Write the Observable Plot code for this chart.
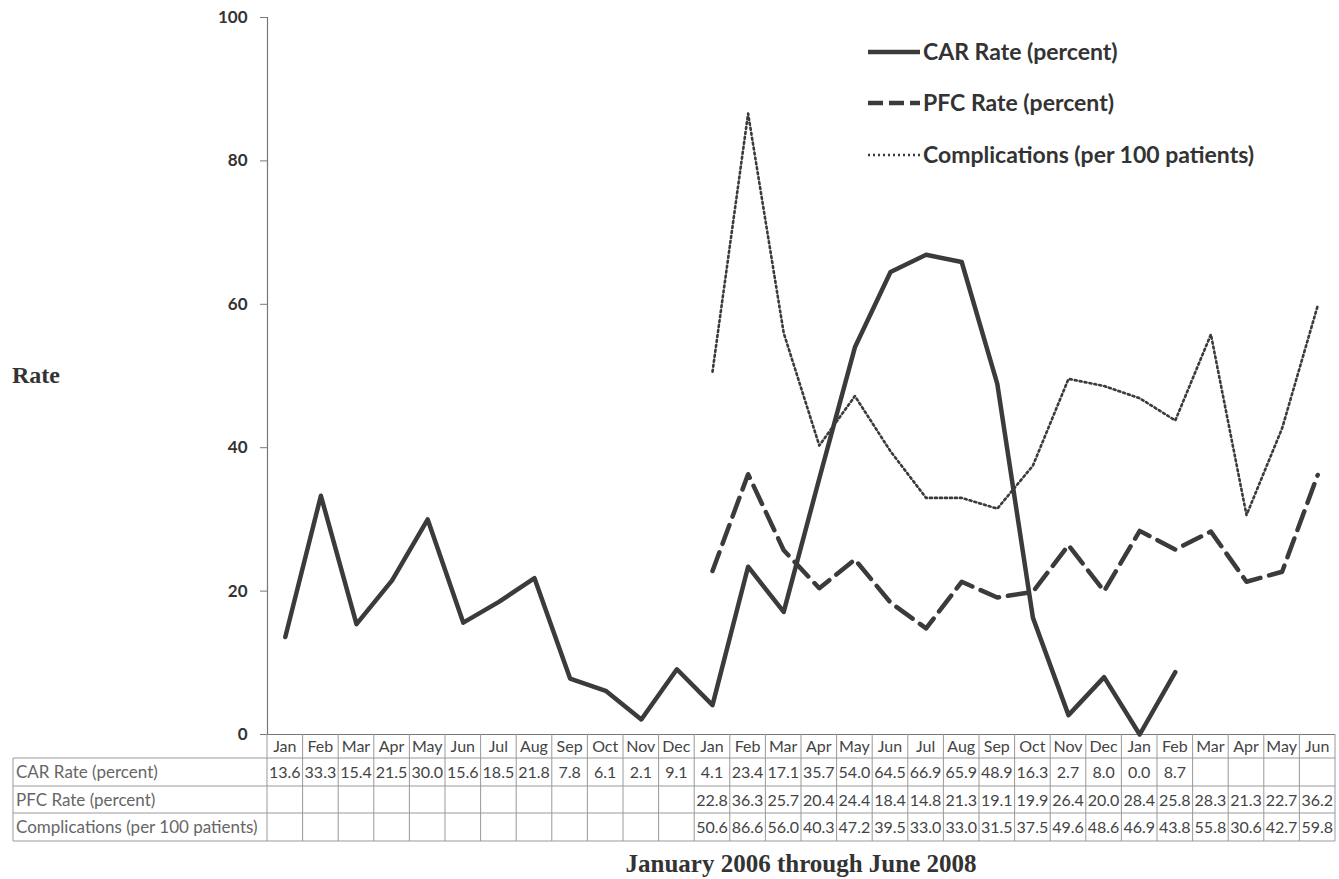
<!DOCTYPE html>
<html><head><meta charset="utf-8">
<script src="https://cdn.jsdelivr.net/npm/d3@7"></script>
<script src="https://cdn.jsdelivr.net/npm/@observablehq/plot@0.6"></script>
<style>body{margin:0;background:#fff}</style>
</head><body><div id="chart"></div>
<script>
const months = ["Jan","Feb","Mar","Apr","May","Jun","Jul","Aug","Sep","Oct","Nov","Dec",
                "Jan","Feb","Mar","Apr","May","Jun","Jul","Aug","Sep","Oct","Nov","Dec",
                "Jan","Feb","Mar","Apr","May","Jun"];
const carValues = [13.6,33.3,15.4,21.5,30.0,15.6,18.5,21.8,7.8,6.1,2.1,9.1,
                   4.1,23.4,17.1,35.7,54.0,64.5,66.9,65.9,48.9,16.3,2.7,8.0,0.0,8.7];
const pfcValues = [22.8,36.3,25.7,20.4,24.4,18.4,14.8,21.3,19.1,19.9,26.4,20.0,28.4,25.8,28.3,21.3,22.7,36.2];
const compValues = [50.6,86.6,56.0,40.3,47.2,39.5,33.0,33.0,31.5,37.5,49.6,48.6,46.9,43.8,55.8,30.6,42.7,59.8];
const carStart = 0, pfcStart = 12, compStart = 12;
const seriesNames = ["CAR Rate (percent)", "PFC Rate (percent)", "Complications (per 100 patients)"];
const yTicks = [0, 20, 40, 60, 80, 100];
const xTitle = "January 2006 through June 2008";
const yTitle = "Rate";

const car = carValues.map((v, k) => ({i: k + carStart, v}));
const pfc = pfcValues.map((v, k) => ({i: k + pfcStart, v}));
const comp = compValues.map((v, k) => ({i: k + compStart, v}));

const lineColor = "#3b3b3b";
const W = 1339, H = 879;
const plot = Plot.plot({
  width: W, height: H,
  marginLeft: 267, marginRight: 4, marginTop: 17, marginBottom: 145,
  x: {type: "linear", domain: [-0.5, months.length - 0.5], axis: null},
  y: {domain: [0, 100], axis: null},
  style: {fontFamily: "Lato, sans-serif", background: "#fff"},
  marks: [
    Plot.ruleX([-0.5], {stroke: "#777", strokeWidth: 1.2}),
    Plot.ruleY([0], {stroke: "#777", strokeWidth: 1.2}),
    Plot.axisY({ticks: yTicks, tickSize: 7, tickPadding: 13, fontSize: 17, fontWeight: "bold",
                label: null, stroke: "#777", fill: "#333"}),
    Plot.line(car, {x: "i", y: "v", stroke: lineColor, strokeWidth: 4.5, strokeLinejoin: "round"}),
    Plot.line(pfc, {x: "i", y: "v", stroke: lineColor, strokeWidth: 4.5, strokeDasharray: "20,9"}),
    Plot.line(comp, {x: "i", y: "v", stroke: lineColor, strokeWidth: 2.6, strokeDasharray: "2,3"})
  ]
});
document.getElementById("chart").appendChild(plot);

const svg = d3.select(plot);
const x = v => plot.scale("x").apply(v);

// Data table under the plot
const tbl = svg.append("g");
const rowLines = [758, 786, 813, 841];
const tableLeft = 13, tableRight = x(months.length - 0.5), tableTop = 734;
rowLines.forEach(y => tbl.append("line").attr("x1", tableLeft).attr("x2", tableRight)
  .attr("y1", y).attr("y2", y).attr("stroke", "#999"));
tbl.append("line").attr("x1", tableLeft).attr("x2", tableLeft).attr("y1", 758).attr("y2", 841).attr("stroke", "#999");
for (let i = 0; i <= months.length; i++) {
  tbl.append("line").attr("x1", x(i - 0.5)).attr("x2", x(i - 0.5))
    .attr("y1", tableTop).attr("y2", 841).attr("stroke", "#999");
}
const cellFont = "Lato, sans-serif";
months.forEach((m, i) => tbl.append("text").attr("x", x(i)).attr("y", 752)
  .attr("text-anchor", "middle").attr("font-family", cellFont).attr("font-size", 16)
  .attr("fill", "#444").text(m));
const rows = [[carValues, carStart], [pfcValues, pfcStart], [compValues, compStart]];
const rowMid = [778, 806, 833];
rows.forEach(([vals, start], r) => {
  tbl.append("text").attr("x", 16).attr("y", rowMid[r]).attr("text-anchor", "start")
    .attr("font-family", cellFont).attr("font-size", 17).attr("fill", "#666").text(seriesNames[r]);
  vals.forEach((v, k) => tbl.append("text").attr("x", x(k + start)).attr("y", rowMid[r])
    .attr("text-anchor", "middle").attr("font-family", cellFont).attr("font-size", 16)
    .attr("fill", "#444").text(v.toFixed(1)));
});

// Titles
svg.append("text").attr("x", 12).attr("y", 383).attr("text-anchor", "start")
  .attr("font-family", "Liberation Serif, serif")
  .attr("font-weight", "bold").attr("font-size", 24).attr("fill", "#333").text(yTitle);
svg.append("text").attr("x", 801).attr("y", 872).attr("text-anchor", "middle")
  .attr("font-family", "Liberation Serif, serif").attr("font-weight", "bold")
  .attr("font-size", 25).attr("fill", "#333").text(xTitle);

// Legend
const leg = svg.append("g");
const legY = [52, 103, 155];
const styles = [{w: 4.5, d: null}, {w: 4.5, d: "15,6"}, {w: 2.6, d: "2,3"}];
legY.forEach((y, r) => {
  const ln = leg.append("line").attr("x1", 868).attr("x2", 920).attr("y1", y).attr("y2", y)
    .attr("stroke", lineColor).attr("stroke-width", styles[r].w);
  if (styles[r].d) ln.attr("stroke-dasharray", styles[r].d);
  leg.append("text").attr("x", 923).attr("y", y).attr("dy", "0.35em").attr("text-anchor", "start")
    .attr("font-family", "Lato, sans-serif").attr("font-weight", "bold").attr("font-size", 23)
    .attr("fill", "#333").text(seriesNames[r]);
});
</script></body></html>
